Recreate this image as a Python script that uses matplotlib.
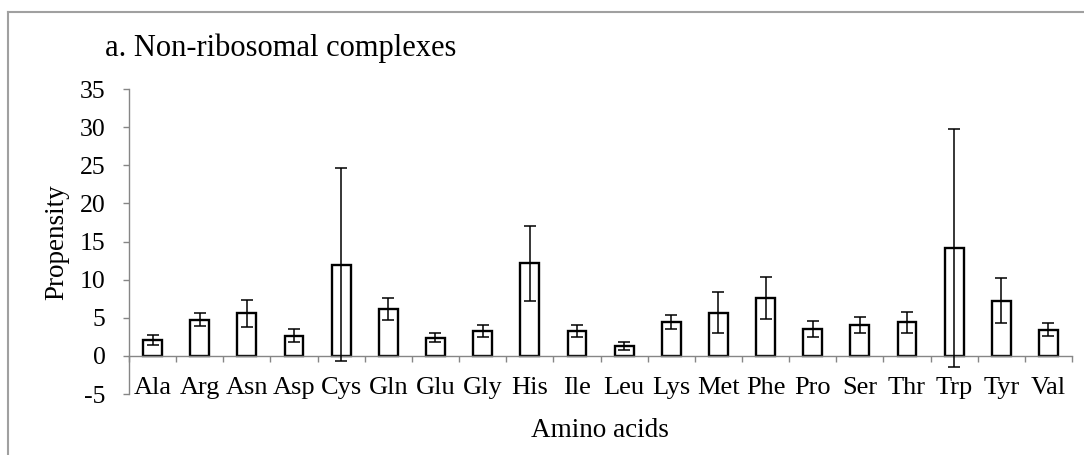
import numpy as np
import matplotlib
matplotlib.use('Agg')
import matplotlib.pyplot as plt
from matplotlib.lines import Line2D
from matplotlib.ticker import FixedLocator


# data
aminoAcids = ['Ala','Arg','Asn','Asp','Cys','Gln','Glu','Gly','His','Ile',
              'Leu','Lys','Met','Phe','Pro','Ser','Thr','Trp','Tyr','Val']
propensity = [2.07, 4.74, 5.60, 2.67, 11.97, 6.16, 2.37, 3.27, 12.14, 3.27,
              1.33, 4.48, 5.68, 7.58, 3.53, 4.05, 4.39, 14.20, 7.27, 3.44]
errProp = [0.70, 0.85, 1.75, 0.85, 12.70, 1.42, 0.58, 0.73, 4.97, 0.78,
           0.50, 0.90, 2.67, 2.75, 1.03, 1.08, 1.42, 15.60, 3.00, 0.86]
yTicks = [-5, 0, 5, 10, 15, 20, 25, 30, 35]


plt.rcParams['font.family'] = ['Liberation Serif', 'DejaVu Serif']
greyAx = '#868686'

fig = plt.figure(figsize=(10.84, 4.55), dpi=100)
ax = fig.add_axes([0.119, 0.134, 0.870, 0.670])

x = np.arange(len(aminoAcids))
ax.bar(x, propensity, width=0.4, color='white', edgecolor='black', linewidth=1.7, zorder=2)
ax.errorbar(x, propensity, yerr=errProp, fmt='none', ecolor='black',
            elinewidth=1.1, capsize=4.3, capthick=1.1, zorder=3)

ax.set_xlim(-0.5, len(aminoAcids)-0.5)
ax.set_ylim(-5, 35)
ax.set_yticks(yTicks)
ax.set_yticklabels([str(v) for v in yTicks])
ax.set_xticks(x)
ax.set_xticklabels(aminoAcids)
ax.xaxis.set_minor_locator(FixedLocator(np.arange(len(aminoAcids)+1)-0.5))

# axes look: x axis through zero, no box
ax.spines['top'].set_visible(False)
ax.spines['right'].set_visible(False)
ax.spines['bottom'].set_position(('data', 0))
for s in ['left', 'bottom']:
    ax.spines[s].set_color(greyAx)
    ax.spines[s].set_linewidth(1.0)

ax.tick_params(axis='x', which='major', length=0, pad=15.5, labelsize=19)
ax.tick_params(axis='x', which='minor', length=4.3, width=1.0, color=greyAx, direction='out')
ax.tick_params(axis='y', length=4.3, width=1.0, color=greyAx, direction='out', pad=12.5, labelsize=18.5)

# labels
fig.text(105/1084, 1-56/455, 'a. Non-ribosomal complexes', fontsize=22, ha='left', va='baseline')
fig.text(57/1084, 1-242/455, 'Propensity', fontsize=19.5, rotation=90, ha='center', va='center')
fig.text(600/1084, 1-437/455, 'Amino acids', fontsize=19.5, ha='center', va='baseline')

# outer frame (left and top only)
frameCol = '#a0a0a0'
fig.add_artist(Line2D([8/1084, 8/1084], [0, 1-12/455], transform=fig.transFigure, color=frameCol, lw=1.5))
fig.add_artist(Line2D([8/1084, 1], [1-12/455, 1-12/455], transform=fig.transFigure, color=frameCol, lw=1.5))

plt.savefig('out.png', dpi=100)
